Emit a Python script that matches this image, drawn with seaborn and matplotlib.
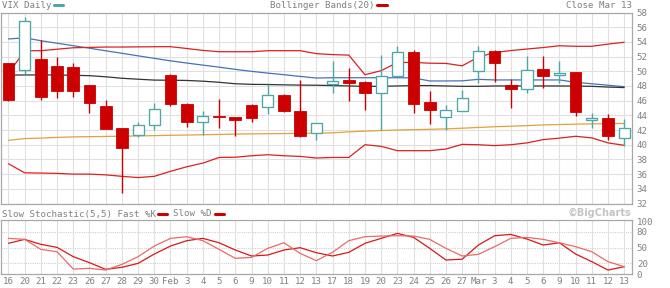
import numpy as np
import pandas as pd
import matplotlib
matplotlib.use("Agg")
import matplotlib.pyplot as plt
import seaborn as sns
from matplotlib.lines import Line2D

# ---------------- data ----------------
dates = ["16", "20", "21", "22", "23", "26", "27", "28", "29", "30", "Feb", "3", "4", "5", "6",
         "9", "10", "11", "12", "13", "17", "18", "19", "20", "23", "24", "25", "26", "27",
         "Mar", "3", "4", "5", "6", "9", "10", "11", "12", "13"]

open_ = [51.07, 50.19, 51.66, 50.74, 50.52, 48.10, 45.22, 42.25, 41.34, 42.71, 49.56, 45.59, 43.03,
         43.85, 43.71, 45.45, 45.18, 46.82, 44.63, 41.62, 48.23, 48.82, 48.60, 47.10, 49.37, 52.66,
         45.86, 43.81, 44.63, 50.05, 52.79, 48.10, 47.64, 50.29, 49.47, 49.84, 43.30, 43.58, 40.93]
high = [51.10, 57.45, 54.26, 51.89, 51.07, 48.15, 46.08, 42.30, 43.16, 45.63, 49.60, 45.65, 44.53,
        46.27, 43.75, 45.50, 48.33, 46.85, 48.78, 43.00, 51.42, 50.38, 48.65, 52.20, 53.40, 52.90,
        47.32, 45.36, 47.41, 53.48, 52.90, 48.90, 52.03, 52.10, 51.42, 49.90, 44.36, 44.12, 43.53]
low = [46.00, 49.60, 46.08, 46.41, 46.49, 44.26, 42.10, 33.40, 41.07, 42.07, 45.26, 42.38, 41.38,
       42.25, 41.25, 43.07, 44.16, 44.50, 41.10, 40.70, 47.10, 45.95, 44.71, 41.97, 49.30, 44.36,
       42.85, 41.97, 44.60, 48.47, 48.55, 45.04, 47.00, 47.78, 48.47, 43.89, 42.30, 40.60, 39.88]
close = [46.04, 56.82, 46.49, 47.32, 47.32, 45.73, 42.16, 39.56, 42.71, 44.90, 45.49, 43.07, 43.95,
         43.75, 43.40, 43.62, 46.82, 44.53, 41.15, 42.99, 48.68, 48.47, 47.10, 49.37, 52.66, 45.49,
         44.67, 44.71, 46.41, 52.79, 51.10, 47.64, 50.19, 49.37, 49.74, 44.44, 43.67, 41.15, 42.30]

upper_band = [49.70, 52.80, 52.80, 53.00, 53.20, 53.25, 53.30, 53.30, 53.32, 53.34, 53.35, 53.10,
              52.84, 52.66, 52.66, 52.66, 52.80, 52.80, 52.80, 52.40, 52.27, 52.20, 49.53, 50.08,
              51.20, 51.20, 51.10, 51.07, 50.74, 51.93, 52.55, 52.82, 53.03, 53.23, 53.47, 53.40,
              53.40, 53.70, 53.95]
lower_band = [37.41, 36.18, 36.14, 36.10, 36.00, 36.00, 35.90, 35.70, 35.53, 35.70, 36.38, 37.00,
              37.50, 38.27, 38.30, 38.50, 38.64, 38.50, 38.41, 38.19, 38.27, 38.27, 40.00, 39.78,
              39.19, 39.19, 39.19, 39.42, 40.05, 40.00, 39.88, 40.00, 40.25, 40.70, 40.90, 41.15,
              40.93, 40.25, 39.92]
ma_blue = [54.40, 54.55, 54.16, 53.82, 53.48, 53.14, 52.79, 52.45, 52.10, 51.76, 51.42, 51.12,
           50.84, 50.56, 50.26, 49.99, 49.75, 49.53, 49.30, 49.08, 49.12, 49.12, 49.12, 49.12,
           49.12, 49.10, 48.68, 48.68, 48.70, 48.90, 48.82, 48.82, 48.82, 48.82, 48.82, 48.50,
           48.30, 48.10, 47.90]
ma_black = [49.47, 49.50, 49.50, 49.50, 49.45, 49.40, 49.25, 49.05, 48.92, 48.80, 48.78, 48.75,
            48.65, 48.50, 48.30, 48.22, 48.20, 48.15, 48.12, 48.10, 48.05, 48.00, 47.95, 47.95,
            48.00, 48.05, 48.05, 48.00, 47.95, 47.95, 48.00, 48.00, 48.00, 48.00, 48.00, 47.98,
            47.95, 47.85, 47.78]
ma_orange = [40.60, 40.84, 40.90, 41.00, 41.07, 41.10, 41.13, 41.16, 41.20, 41.24, 41.28, 41.32,
             41.36, 41.40, 41.45, 41.48, 41.50, 41.52, 41.55, 41.58, 41.62, 41.75, 41.85, 41.93,
             42.00, 42.05, 42.10, 42.16, 42.25, 42.35, 42.45, 42.52, 42.60, 42.70, 42.75, 42.80,
             42.84, 42.87, 42.89]

fast_k = [67.3, 65.4, 46.5, 42.0, 9.4, 10.7, 7.5, 18.2, 32.7, 52.8, 67.3, 70.4, 62.9, 46.5, 29.6,
          31.4, 48.4, 59.0, 39.0, 25.2, 41.0, 62.9, 70.4, 71.7, 72.3, 71.7, 65.4, 48.4, 34.0, 37.1,
          51.6, 67.3, 69.2, 65.4, 59.0, 51.6, 42.1, 23.3, 13.8]
slow_d = [58.0, 65.4, 56.0, 50.3, 32.7, 21.4, 8.8, 12.6, 20.1, 37.7, 52.8, 62.9, 67.3, 59.0, 45.3,
          34.0, 35.8, 45.3, 49.7, 40.2, 34.0, 40.9, 57.9, 67.3, 76.7, 69.2, 48.4, 26.4, 28.0, 54.7,
          72.3, 74.8, 66.0, 54.7, 59.0, 37.7, 23.3, 7.5, 13.8]

price_ticks = list(range(32, 59, 2))
stoch_ticks = [0, 20, 50, 80, 100]
stoch_grid = [20, 50, 80]

# ---------------- style ----------------
sns.set_theme(style="white")
plt.rcParams["font.family"] = ["DejaVu Sans Mono", "DejaVu Sans"]

W, H = 670, 288
fig = plt.figure(figsize=(W / 100, H / 100), dpi=100)
fig.patch.set_facecolor("white")

def fx(px):
    return px / W

def fy(py):
    return 1 - py / H

RED = "#cc0000"
BAND = "#dd2020"
TEAL = "#4ea6a6"
BLUE = "#4473b8"
ORANGE = "#e0a23c"
GRID = "#e0e0e0"
SPINE = "#a8a8a8"
TXT = "#808080"

n = len(dates)
idx = np.arange(n)
df = pd.DataFrame({"i": idx, "open": open_, "high": high, "low": low, "close": close,
                   "upper": upper_band, "lower": lower_band, "blue": ma_blue,
                   "black": ma_black, "orange": ma_orange, "k": fast_k, "d": slow_d})

left_px, right_px = 1, 632
ax = fig.add_axes([fx(left_px), fy(203.5), fx(right_px - left_px), (203.5 - 12.5) / H])
ax2 = fig.add_axes([fx(left_px), fy(274), fx(right_px - left_px), (274 - 220) / H])

xlim = (-0.46, 38.48)

# ---------------- main panel ----------------
ax.set_xlim(*xlim)
ax.set_ylim(32, 58)
ax.set_xticks(idx)
ax.set_yticks(price_ticks)
ax.grid(True, color=GRID, lw=0.8)
ax.set_axisbelow(True)
ax.yaxis.tick_right()
ax.tick_params(axis="x", length=0, labelbottom=False)
ax.tick_params(axis="y", length=0, pad=3.5, labelsize=6.6, labelcolor=TXT)
for s in ax.spines.values():
    s.set_color(SPINE)
    s.set_linewidth(0.9)

sns.lineplot(data=df, x="i", y="orange", ax=ax, color=ORANGE, lw=0.9, zorder=2)
sns.lineplot(data=df, x="i", y="blue", ax=ax, color=BLUE, lw=0.9, zorder=2)
sns.lineplot(data=df, x="i", y="black", ax=ax, color="#333333", lw=0.9, zorder=2)
sns.lineplot(data=df, x="i", y="upper", ax=ax, color=BAND, lw=0.9, zorder=2)
sns.lineplot(data=df, x="i", y="lower", ax=ax, color=BAND, lw=0.9, zorder=2)

up = df["close"] >= df["open"]
cols = np.where(up, TEAL, RED)
ax.vlines(df["i"], df["low"], df["high"], colors=cols, lw=1.0, zorder=3)
body_bottom = np.minimum(df["open"], df["close"])
body_h = np.maximum(np.abs(df["close"] - df["open"]), 0.08)
ax.bar(df["i"][~up], body_h[~up], bottom=body_bottom[~up], width=0.72,
       color=RED, edgecolor=RED, lw=0.6, zorder=4)
ax.bar(df["i"][up], body_h[up], bottom=body_bottom[up], width=0.68,
       color="white", edgecolor=TEAL, lw=0.95, zorder=4)
ax.set_xlabel("")
ax.set_ylabel("")

# ---------------- stochastic panel ----------------
ax2.set_xlim(*xlim)
ax2.set_ylim(0, 102)
ax2.set_xticks(idx)
ax2.set_xticklabels(dates)
ax2.set_yticks(stoch_ticks)
ax2.xaxis.grid(True, color=GRID, lw=0.8)
ax2.yaxis.grid(False)
for g in stoch_grid:
    ax2.axhline(g, color="#cfcfcf", lw=0.8, ls=(0, (1, 1)), zorder=0)
ax2.set_axisbelow(True)
ax2.yaxis.tick_right()
ax2.tick_params(axis="x", length=0, pad=2.5, labelsize=6.6, labelcolor=TXT)
ax2.tick_params(axis="y", length=0, pad=3.5, labelsize=6.6, labelcolor=TXT)
for s in ax2.spines.values():
    s.set_color(SPINE)
    s.set_linewidth(0.9)
sns.lineplot(data=df, x="i", y="d", ax=ax2, color="#d81818", lw=0.9, zorder=3)
sns.lineplot(data=df, x="i", y="k", ax=ax2, color="#ea6a6a", lw=0.9, zorder=3)
ax2.set_xlabel("")
ax2.set_ylabel("")

# ---------------- header texts ----------------
fs = 6.6
fig.text(fx(2), fy(5), "VIX Daily", fontsize=fs, color=TXT, va="center", ha="left")
fig.add_artist(Line2D([fx(54), fx(63)], [fy(5), fy(5)], color=TEAL, lw=2.2))
fig.text(fx(270), fy(5), "Bollinger Bands(20)", fontsize=fs, color=TXT, va="center", ha="left")
fig.add_artist(Line2D([fx(377), fx(387)], [fy(5), fy(5)], color=RED, lw=2.2))
fig.text(fx(632), fy(5), "Close Mar 13", fontsize=fs, color=TXT, va="center", ha="right")

fig.text(fx(2), fy(214), "Slow Stochastic(5,5) Fast %K", fontsize=fs, color=TXT,
         va="center", ha="left")
fig.add_artist(Line2D([fx(158), fx(167)], [fy(214), fy(214)], color=RED, lw=2.2))
fig.text(fx(173), fy(214), "Slow %D", fontsize=fs, color=TXT, va="center", ha="left")
fig.add_artist(Line2D([fx(215), fx(224)], [fy(214), fy(214)], color=RED, lw=2.2))
fig.text(fx(631), fy(212.5), "\u00a9BigCharts", fontsize=7, color="#c4c4c4", va="center",
         ha="right", fontweight="bold", family=["DejaVu Sans", "DejaVu Sans Mono"])

fig.savefig("out.png", dpi=100, facecolor="white")
